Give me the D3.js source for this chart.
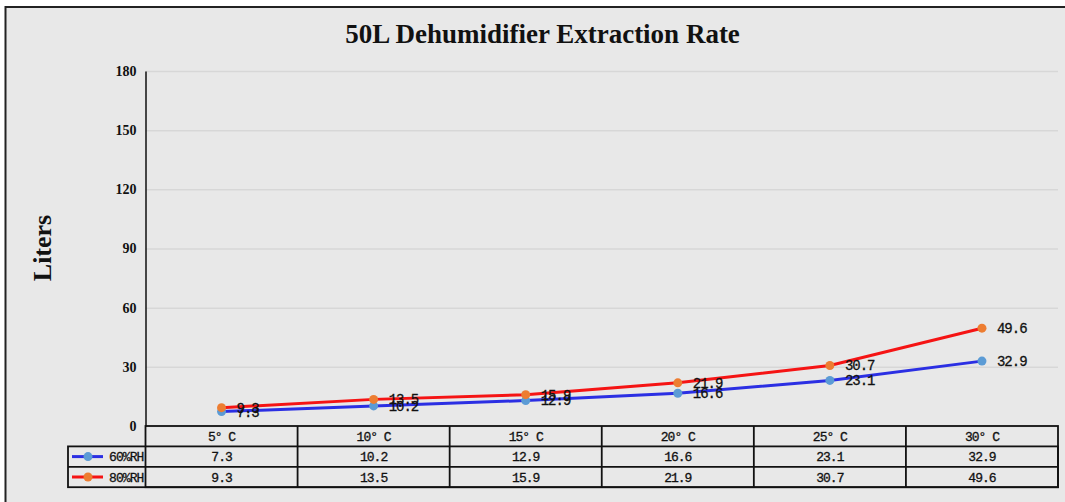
<!DOCTYPE html>
<html>
<head>
<meta charset="utf-8">
<script src="https://cdn.jsdelivr.net/npm/d3@7"></script>
<style>
  body { margin: 0; background: #fff; }
  svg { display: block; }
</style>
</head>
<body>
<div id="chart"></div>
<script>
const categories = ['5° C', '10° C', '15° C', '20° C', '25° C', '30° C'];
const seriesNames = ['60%RH', '80%RH'];
const rh60 = [7.3, 10.2, 12.9, 16.6, 23.1, 32.9];
const rh80 = [9.3, 13.5, 15.9, 21.9, 30.7, 49.6];
const yTicks = [0, 30, 60, 90, 120, 150, 180];

const W = 1065, H = 502;
const PLOT = {LEFT: 145.5, RIGHT: 1058, TOP: 71, BOTTOM: 426};
const ROW_H = 20.4;
const LEGEND_LEFT = 68;

const series = [
  {name: seriesNames[0], values: rh60, line: '#2b2fe3', dot: '#5b9bd5'},
  {name: seriesNames[1], values: rh80, line: '#f51414', dot: '#ed7d31'}
];

const svg = d3.select('#chart')
  .append('svg')
    .attr('width', W)
    .attr('height', H);

// chart area + frame
svg.append('rect')
  .attr('x', 5.5).attr('y', 7)
  .attr('width', W + 20).attr('height', H + 20)
  .attr('fill', '#e8e8e8')
  .attr('stroke', '#222')
  .attr('stroke-width', 2);

svg.append('text')
  .attr('x', 542.5).attr('y', 43)
  .attr('text-anchor', 'middle')
  .attr('font-family', '"Liberation Serif", serif')
  .attr('font-weight', 'bold')
  .attr('font-size', 27)
  .attr('fill', '#111')
  .text('50L Dehumidifier Extraction Rate');

svg.append('text')
  .attr('transform', 'translate(51, 248) rotate(-90)')
  .attr('text-anchor', 'middle')
  .attr('font-family', '"Liberation Serif", serif')
  .attr('font-weight', 'bold')
  .attr('font-size', 26)
  .attr('fill', '#111')
  .text('Liters');

const x = d3.scaleBand()
  .domain(categories)
  .range([PLOT.LEFT, PLOT.RIGHT]);

const y = d3.scaleLinear()
  .domain([0, 180])
  .range([PLOT.BOTTOM, PLOT.TOP]);

// grid
svg.append('g')
  .attr('transform', `translate(${PLOT.LEFT}, 0)`)
  .call(d3.axisLeft(y).tickValues(yTicks).tickSize(-(PLOT.RIGHT - PLOT.LEFT)).tickFormat(''))
  .call(g => g.select('.domain').remove())
  .call(g => g.selectAll('line').attr('stroke', '#d7d7d7').attr('stroke-width', 1.5));

// y axis
svg.append('g')
  .attr('transform', `translate(${PLOT.LEFT}, 0)`)
  .call(d3.axisLeft(y).tickValues(yTicks).tickSize(0).tickPadding(9).tickSizeOuter(0))
  .call(g => g.select('.domain').attr('stroke', '#111').attr('stroke-width', 1.5))
  .call(g => g.selectAll('text')
    .attr('font-family', '"Liberation Serif", serif')
    .attr('font-weight', 'bold')
    .attr('font-size', 14)
    .attr('fill', '#111'));

// lines
const line = d3.line()
  .x((d, i) => x(categories[i]) + x.bandwidth() / 2)
  .y(d => y(d));

const sg = svg.selectAll('.series')
  .data(series)
  .enter().append('g')
    .attr('class', 'series');

sg.append('path')
  .attr('d', d => line(d.values))
  .attr('fill', 'none')
  .attr('stroke', d => d.line)
  .attr('stroke-width', 3);

sg.selectAll('circle')
  .data(d => d.values.map((v, i) => ({v, i, s: d})))
  .enter().append('circle')
    .attr('cx', d => x(categories[d.i]) + x.bandwidth() / 2)
    .attr('cy', d => y(d.v))
    .attr('r', 4.5)
    .attr('fill', d => d.s.dot);

sg.selectAll('.lbl')
  .data(d => d.values.map((v, i) => ({v, i})))
  .enter().append('text')
    .attr('class', 'lbl')
    .attr('x', d => x(categories[d.i]) + x.bandwidth() / 2 + 15)
    .attr('y', d => y(d.v))
    .attr('dy', '0.35em')
    .attr('font-family', '"Liberation Mono", monospace')
    .attr('font-size', 14)
    .attr('letter-spacing', -1)
    .attr('stroke', '#111')
    .attr('stroke-width', 0.3)
    .attr('fill', '#111')
    .text(d => d.v.toFixed(1));

// data table
const table = svg.append('g')
  .attr('font-family', '"Liberation Mono", monospace')
  .attr('font-size', 13)
  .attr('letter-spacing', -1)
  .attr('fill', '#111');

const rowY = i => PLOT.BOTTOM + i * ROW_H;
const tableStroke = g => g.attr('stroke', '#111').attr('stroke-width', 1.8).attr('fill', 'none');
const textStroke = g => g.attr('stroke', '#111').attr('stroke-width', 0.3);

// outer table frames
table.append('rect')
  .attr('x', PLOT.LEFT).attr('y', rowY(0))
  .attr('width', PLOT.RIGHT - PLOT.LEFT).attr('height', ROW_H * 3)
  .call(tableStroke);
table.append('rect')
  .attr('x', LEGEND_LEFT).attr('y', rowY(1))
  .attr('width', PLOT.RIGHT - LEGEND_LEFT).attr('height', ROW_H * 2)
  .call(tableStroke);
table.append('line')
  .attr('x1', LEGEND_LEFT).attr('x2', PLOT.RIGHT)
  .attr('y1', rowY(2)).attr('y2', rowY(2))
  .call(tableStroke);
table.selectAll('.vline')
  .data(categories.slice(1))
  .enter().append('line')
    .attr('class', 'vline')
    .attr('x1', d => x(d)).attr('x2', d => x(d))
    .attr('y1', rowY(0)).attr('y2', rowY(3))
    .call(tableStroke);

table.selectAll('.head')
  .data(categories)
  .enter().append('text')
    .attr('class', 'head')
    .attr('x', d => x(d) + x.bandwidth() / 2)
    .attr('y', rowY(0) + ROW_H / 2)
    .attr('dy', '0.35em')
    .attr('text-anchor', 'middle')
    .call(textStroke)
    .text(d => d);

series.forEach((s, r) => {
  const cy = rowY(r + 1) + ROW_H / 2;
  table.selectAll(`.cell${r}`)
    .data(s.values)
    .enter().append('text')
      .attr('x', (d, i) => x(categories[i]) + x.bandwidth() / 2)
      .attr('y', cy)
      .attr('dy', '0.35em')
      .attr('text-anchor', 'middle')
      .call(textStroke)
      .text(d => d.toFixed(1));

  // legend key
  table.append('line')
    .attr('x1', LEGEND_LEFT + 4).attr('x2', LEGEND_LEFT + 35)
    .attr('y1', cy).attr('y2', cy)
    .attr('stroke', s.line).attr('stroke-width', 3);
  table.append('circle')
    .attr('cx', LEGEND_LEFT + 20).attr('cy', cy)
    .attr('r', 4.5)
    .attr('fill', s.dot);
  table.append('text')
    .attr('x', PLOT.LEFT - 2)
    .attr('y', cy)
    .attr('dy', '0.35em')
    .attr('text-anchor', 'end')
    .attr('letter-spacing', -0.9)
    .call(textStroke)
    .text(s.name);
});
</script>
</body>
</html>
